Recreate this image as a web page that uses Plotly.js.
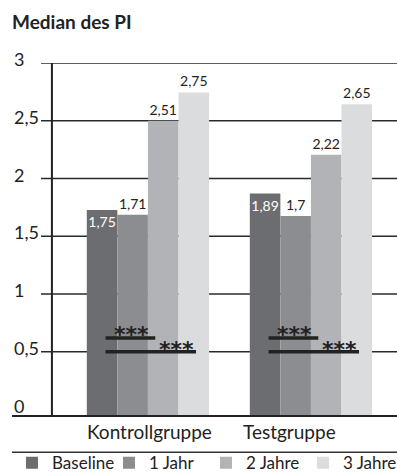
<!DOCTYPE html>
<html><head><meta charset="utf-8">
<script src="https://cdn.plot.ly/plotly-3.0.1.min.js"></script>
<style>html,body{margin:0;padding:0;background:#fff}#chart{width:397px;height:476px}</style>
</head><body><div id="chart"></div>
<script>
const categories = ['Kontrollgruppe', 'Testgruppe'];
const seriesNames = ['Baseline', '1 Jahr', '2 Jahre', '3 Jahre'];
const baseline = [1.75, 1.89];
const jahr1 = [1.71, 1.7];
const jahre2 = [2.51, 2.22];
const jahre3 = [2.75, 2.65];
const tickVals = [0, 0.5, 1, 1.5, 2, 2.5, 3];
const tickText = ['0', '0,5', '1', '1,5', '2', '2,5', '3'];
const sigMark = '***';

const colors = ['#6c6d71', '#8c8d91', '#b2b3b7', '#dbdcde'];
const FONT = 'Lato, "Noto Sans", sans-serif';
const fmt = v => String(v).replace('.', ',');
const xIdx = categories.map((c, i) => i);

const values = [baseline, jahr1, jahre2, jahre3];
const traces = values.map((vals, k) => ({
  type: 'bar', name: seriesNames[k], x: xIdx, y: vals,
  text: vals.map(fmt),
  textposition: k === 0 ? 'inside' : 'outside',
  insidetextanchor: 'end',
  constraintext: 'none',
  textangle: 0,
  textfont: {family: FONT, size: 14, color: k === 0 ? '#ffffff' : '#222222'},
  marker: {color: colors[k], line: {width: 0}},
  cliponaxis: false,
  hoverinfo: 'skip'
}));

const shapes = [];
const annotations = [];
// gridlines (behind bars)
tickVals.slice(1).forEach(v => {
  shapes.push({type: 'line', layer: 'below', xref: 'paper', yref: 'y2', x0: 0, x1: 1, y0: v, y1: v, line: {color: '#2a2a2a', width: 1.6}});
});
// axis line & rules
shapes.push({type: 'line', xref: 'x', yref: 'paper', x0: -0.589, x1: -0.589, y0: 0, y1: 1, line: {color: '#222', width: 2}});
shapes.push({type: 'line', xref: 'paper', yref: 'paper', x0: -0.0815, x1: 1, y0: 0, y1: 0, line: {color: '#222', width: 2}});
shapes.push({type: 'line', xref: 'paper', yref: 'paper', x0: -0.0815, x1: 1, y0: -0.1028, y1: -0.1028, line: {color: '#333', width: 1.5}});
// significance brackets
xIdx.forEach(i => {
  shapes.push({type: 'line', xref: 'x', yref: 'y2', x0: i - 0.26, x1: i + 0.045, y0: 0.62, y1: 0.62, line: {color: '#222', width: 3.5}});
  shapes.push({type: 'line', xref: 'x', yref: 'y2', x0: i - 0.26, x1: i + 0.295, y0: 0.5, y1: 0.5, line: {color: '#222', width: 3.5}});
  annotations.push({xref: 'x', yref: 'y2', x: i - 0.10, y: 0.705, text: '<b>' + sigMark + '</b>', showarrow: false, yanchor: 'middle', yshift: -6, font: {family: '"DejaVu Sans"', size: 22, color: '#222'}});
  annotations.push({xref: 'x', yref: 'y2', x: i + 0.175, y: 0.575, text: '<b>' + sigMark + '</b>', showarrow: false, yanchor: 'middle', yshift: -6, font: {family: '"DejaVu Sans"', size: 22, color: '#222'}});
});
// y tick labels (left aligned)
tickVals.forEach((v, j) => {
  annotations.push({xref: 'paper', yref: 'y2', x: -0.0815, y: v, text: tickText[j], showarrow: false, xanchor: 'left', yanchor: 'middle', yshift: 4, font: {family: FONT, size: 18, color: '#222'}});
});
// category labels
const catShift = [2, -21];
categories.forEach((c, i) => {
  annotations.push({xref: 'x', yref: 'paper', x: i, y: -0.045, text: c, showarrow: false, xanchor: 'center', yanchor: 'middle', xshift: catShift[i], font: {family: FONT, size: 19, color: '#222'}});
});

const layout = {
  width: 397, height: 476,
  margin: {l: 41, r: 0, t: 63, b: 60, autoexpand: false},
  paper_bgcolor: '#fff', plot_bgcolor: '#fff',
  font: {family: FONT, color: '#222'},
  title: {text: '<b>Median des PI</b>', x: 12/397, xanchor: 'left', y: 1 - 22/476, yanchor: 'middle', font: {family: FONT, size: 19, color: '#222'}},
  barmode: 'group', bargap: 0.25, bargroupgap: 0,
  xaxis: {range: [-0.656, 1.528], showticklabels: false, showgrid: false, zeroline: false, showline: false, ticks: ''},
  yaxis: {range: [0, 3], showticklabels: false, showgrid: false, zeroline: false, showline: false, ticks: ''},
  yaxis2: {range: [-0.056, 3], overlaying: 'y', side: 'left', showticklabels: false, showgrid: false, zeroline: false, showline: false, ticks: ''},
  showlegend: true,
  legend: {orientation: 'h', x: -0.0815, xanchor: 'left', y: -0.083, yanchor: 'top', bgcolor: 'rgba(0,0,0,0)', font: {family: FONT, size: 17, color: '#222'}, itemwidth: 30, entrywidth: 52, entrywidthmode: 'pixels', traceorder: 'normal'},
  shapes: shapes, annotations: annotations
};
traces.push({type: 'scatter', x: [0], y: [0], yaxis: 'y2', mode: 'markers', marker: {opacity: 0}, showlegend: false, hoverinfo: 'skip'});
Plotly.newPlot('chart', traces, layout, {displayModeBar: false, staticPlot: true});
</script></body></html>
